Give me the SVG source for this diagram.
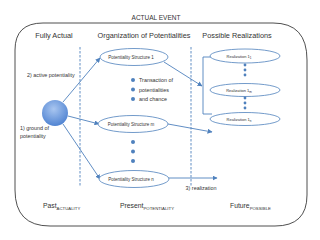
<svg xmlns="http://www.w3.org/2000/svg" width="320" height="240" viewBox="0 0 320 240">
<style>
text{font-family:"Liberation Sans",Arial,sans-serif;fill:#333}
.ell{fill:#fff;stroke:#4f81bd;stroke-width:0.8}
.con{fill:none;stroke:#4f81bd;stroke-width:0.9}
.dash{fill:none;stroke:#4f81bd;stroke-width:0.9;stroke-dasharray:2.5,1.5}
.dot{fill:#4f81bd}
.hdr{font-size:7.3px;text-anchor:middle}
.ps{font-size:4.5px;text-anchor:middle}
.rl{font-size:4px;text-anchor:middle}
.lbl{font-size:5.4px}
.big{font-size:6.8px}
.sub{font-size:4.3px}
</style>
<defs>
<marker id="ah" viewBox="0 0 10 10" refX="9" refY="5" markerWidth="5" markerHeight="5" markerUnits="userSpaceOnUse" orient="auto">
<path d="M0,0 L10,5 L0,10 Z" fill="#4f81bd"/>
</marker>
<radialGradient id="g" cx="0.45" cy="0.35" r="0.7">
<stop offset="0" stop-color="#a9c6f0"/>
<stop offset="1" stop-color="#4a7fd0"/>
</radialGradient>
</defs>
<path d="M15,50 Q15,23 43,23 H273 Q307,23 307,60 V195 Q307,226 275,226 H50 Q15,226 15,190 Z" fill="none" stroke="#222" stroke-width="0.8"/>
<text x="156" y="20" font-size="6.5" text-anchor="middle">ACTUAL EVENT</text>
<text class="hdr" x="54" y="38">Fully Actual</text>
<text class="hdr" x="144" y="38">Organization of Potentialities</text>
<text class="hdr" x="237" y="38">Possible Realizations</text>
<g id="connectors">
<line class="dash" x1="80" y1="47" x2="80" y2="186"/>
<line class="dash" x1="191" y1="47" x2="191" y2="187"/>
<line class="con" x1="63" y1="102" x2="100" y2="58" marker-end="url(#ah)"/>
<line class="con" x1="68" y1="116" x2="99" y2="124" marker-end="url(#ah)"/>
<line class="con" x1="63" y1="124" x2="100" y2="179" marker-end="url(#ah)"/>
<line class="con" x1="164" y1="62" x2="202" y2="86" marker-end="url(#ah)"/>
<path class="con" d="M211,57 H203 V114 H212"/>
<line class="con" x1="168" y1="124" x2="212" y2="132" marker-end="url(#ah)"/>
<line class="con" x1="168" y1="178" x2="217" y2="178" marker-end="url(#ah)"/>
</g>
<g id="ground">
<circle cx="55" cy="113" r="13" fill="url(#g)"/>
</g>
<text class="lbl" x="27" y="77">2) active potentiality</text>
<text class="lbl" x="20" y="130">1) ground of</text>
<text class="lbl" x="20" y="137.5">potentiality</text>
<g id="ps1"><ellipse class="ell" cx="134" cy="57" rx="34" ry="8.5"/><text class="ps" x="131" y="58.5">Potentiality Structure 1</text></g>
<g id="psm"><ellipse class="ell" cx="133" cy="124" rx="35" ry="8.5"/><text class="ps" x="131" y="125.5">Potentiality Structure m</text></g>
<g id="psn"><ellipse class="ell" cx="134" cy="179" rx="35" ry="8.5"/><text class="ps" x="131" y="180.5">Potentiality Structure n</text></g>
<g id="transaction">
<circle class="dot" cx="133" cy="80" r="2"/>
<circle class="dot" cx="133" cy="89.5" r="2"/>
<circle class="dot" cx="133" cy="99" r="2"/>
<text class="lbl" x="139" y="82">Transaction of</text>
<text class="lbl" x="139" y="91.5">potentialities</text>
<text class="lbl" x="139" y="101">and chance</text>
</g>
<g id="psdots">
<circle class="dot" cx="133" cy="142" r="2"/>
<circle class="dot" cx="133" cy="151.5" r="2"/>
<circle class="dot" cx="133" cy="161" r="2"/>
</g>
<g id="r1"><ellipse class="ell" cx="245" cy="56" rx="35" ry="7"/><text class="rl" x="239" y="57.5">Realization 1<tspan font-size="3" dy="1">1</tspan></text></g>
<g id="rm"><ellipse class="ell" cx="245" cy="90" rx="35" ry="6.5"/><text class="rl" x="239" y="91.5">Realization 1<tspan font-size="3" dy="1">m</tspan></text></g>
<g id="rn"><ellipse class="ell" cx="245" cy="119" rx="35" ry="6.5"/><text class="rl" x="239" y="120.5">Realization 1<tspan font-size="3" dy="1">n</tspan></text></g>
<g id="rdots">
<circle class="dot" cx="245" cy="65" r="1.4"/>
<circle class="dot" cx="245" cy="70" r="1.4"/>
<circle class="dot" cx="245" cy="75" r="1.4"/>
<circle class="dot" cx="245" cy="98" r="1.4"/>
<circle class="dot" cx="245" cy="103" r="1.4"/>
<circle class="dot" cx="245" cy="108" r="1.4"/>
</g>
<text class="lbl" x="201" y="190" text-anchor="middle">3) realization</text>
<text class="big" x="43" y="208">Past<tspan class="sub" dy="1.5">ACTUALITY</tspan></text>
<text class="big" x="120" y="208">Present<tspan class="sub" dy="1.5">POTENTIALITY</tspan></text>
<text class="big" x="230" y="208">Future<tspan class="sub" dy="1.5">POSSIBLE</tspan></text>
</svg>
